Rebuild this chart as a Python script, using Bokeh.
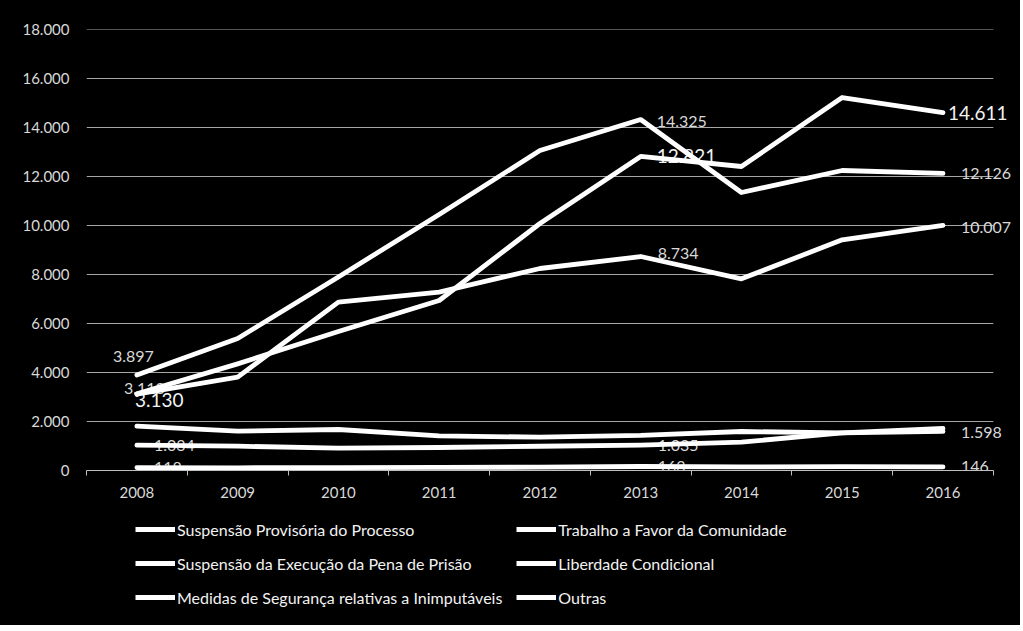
from bokeh.plotting import figure
from bokeh.layouts import column
from bokeh.models import Range1d, FixedTicker, CustomJSTickFormatter, Legend, LegendItem, ColumnDataSource
from bokeh.embed import file_html
from bokeh.resources import INLINE
from bokeh.core.properties import value

# ---------------- data ----------------
years = [2008, 2009, 2010, 2011, 2012, 2013, 2014, 2015, 2016]
series_names = [
    "Suspensão Provisória do Processo",
    "Trabalho a Favor da Comunidade",
    "Suspensão da Execução da Pena de Prisão",
    "Liberdade Condicional",
    "Medidas de Segurança relativas a Inimputáveis",
    "Outras",
]
spp = [3130, 4354, 5673, 6939, 10082, 12821, 12408, 15224, 14611]
tfc = [3897, 5390, 7900, 10450, 13060, 14325, 11347, 12245, 12126]
sepp = [3113, 3810, 6870, 7280, 8245, 8734, 7823, 9415, 10007]
lc = [1034, 993, 912, 939, 990, 1035, 1157, 1537, 1598]
msri = [118, 110, 118, 125, 135, 163, 150, 155, 146]
outras = [1808, 1605, 1673, 1410, 1361, 1430, 1592, 1537, 1720]
y_ticks = [0, 2000, 4000, 6000, 8000, 10000, 12000, 14000, 16000, 18000]

series = [spp, tfc, sepp, lc, msri, outras]

# labelled points: (series index, year, x offset px, y offset px, big)
label_specs = [
    (1, 2008, -24, -19, False), (1, 2013, 16, 2, False), (1, 2016, 18, 0, False),
    (2, 2008, -13, -6, False), (2, 2013, 17, -3, False), (2, 2016, 18, 2, False),
    (0, 2008, -2, 6, True), (0, 2013, 16, 0, True), (0, 2016, 5, 0, True),
    (3, 2008, 17, 0, False), (3, 2013, 17, 0, False), (3, 2016, 18, 1, False),
    (4, 2008, 17, 0, False), (4, 2013, 17, 0, False), (4, 2016, 18, 0, False),
]

FONT = "Lato"
X_PAD = 0.2   # extra room right of the last category for the end labels
W = 1020


def fmt(v):
    return f"{v:,}".replace(",", ".")


x0, x1 = years[0] - 0.5, years[-1] + 0.5
p = figure(width=W, height=505,
           x_range=Range1d(x0, x1 + X_PAD),
           y_range=Range1d(y_ticks[0], y_ticks[-1]),
           output_backend="svg", toolbar_location=None,
           min_border_left=86, min_border_right=7, min_border_top=29, min_border_bottom=35)
p.background_fill_color = "black"
p.border_fill_color = "black"
p.outline_line_color = None

p.xgrid.visible = False
p.ygrid.visible = False
# horizontal gridlines limited to the category span
p.segment(x0=[x0] * len(y_ticks), x1=[x1] * len(y_ticks), y0=y_ticks, y1=y_ticks,
          line_color="#a6a6a6", line_width=1)

p.yaxis.ticker = FixedTicker(ticks=y_ticks)
p.yaxis.formatter = CustomJSTickFormatter(code="return tick.toString().replace(/\\B(?=(\\d{3})+(?!\\d))/g, '.');")
p.yaxis.axis_line_color = None
p.yaxis.major_tick_line_color = None
p.yaxis.minor_tick_line_color = None
p.yaxis.major_label_text_font = FONT
p.yaxis.major_label_text_font_size = "15px"
p.yaxis.major_label_text_color = "#d9d9d9"
p.yaxis.major_label_standoff = 11

bounds = [y - 0.5 for y in years] + [years[-1] + 0.5]
p.xaxis.bounds = (x0, x1)
p.xaxis.ticker = FixedTicker(ticks=years, minor_ticks=bounds)
p.xaxis.axis_line_color = "#bfbfbf"
p.xaxis.axis_line_width = 1
p.xaxis.major_tick_line_color = None
p.xaxis.major_tick_out = 0
p.xaxis.major_tick_in = 0
p.xaxis.minor_tick_line_color = "#bfbfbf"
p.xaxis.minor_tick_out = 5
p.xaxis.minor_tick_in = 0
p.xaxis.major_label_text_font = FONT
p.xaxis.major_label_text_font_size = "15px"
p.xaxis.major_label_text_color = "#d9d9d9"
p.xaxis.major_label_standoff = 11

# data labels (drawn first so the lines lie over them)
for big in (False, True):
    xs, ys, txt, dx, dy = [], [], [], [], []
    for si, yr, ox, oy, b in label_specs:
        if b != big:
            continue
        i = years.index(yr)
        xs.append(yr)
        ys.append(series[si][i])
        txt.append(fmt(series[si][i]))
        dx.append(ox)
        dy.append(oy)
    src = ColumnDataSource(dict(x=xs, y=ys, text=txt, dx=dx, dy=dy))
    p.text(x="x", y="y", text="text", x_offset="dx", y_offset="dy", source=src,
           text_font=value(FONT), text_font_size="19px" if big else "16px",
           text_color="#f2f2f2" if big else "#d9d9d9",
           text_align="left", text_baseline="middle")

for vals in series:
    p.line(years, vals, line_color="white", line_width=4.8, line_join="round", line_cap="round")

# legend strip below the chart (its own copies of the series lie outside its view)
lg = figure(width=W, height=120, x_range=Range1d(0, 1), y_range=Range1d(0, 1),
            output_backend="svg", toolbar_location=None,
            min_border_left=86, min_border_right=7, min_border_top=0, min_border_bottom=0)
lg.background_fill_color = "black"
lg.border_fill_color = "black"
lg.outline_line_color = None
lg.axis.visible = False
lg.grid.visible = False
items = []
for name, vals in zip(series_names, series):
    r = lg.line(years, vals, line_color="white", line_width=5)
    items.append(LegendItem(label=name, renderers=[r]))

legend = Legend(items=items, ncols=2, orientation="horizontal", location=(49, 18),
                glyph_width=40, glyph_height=20, label_height=20, label_standoff=2,
                spacing=14, padding=0, margin=0,
                label_text_font=FONT, label_text_font_size="16px", label_text_color="#f2f2f2",
                background_fill_alpha=0, border_line_color=None)
lg.add_layout(legend)

page = column(p, lg, spacing=0, background="black")
open("out.html", "w").write(file_html(page, INLINE))
